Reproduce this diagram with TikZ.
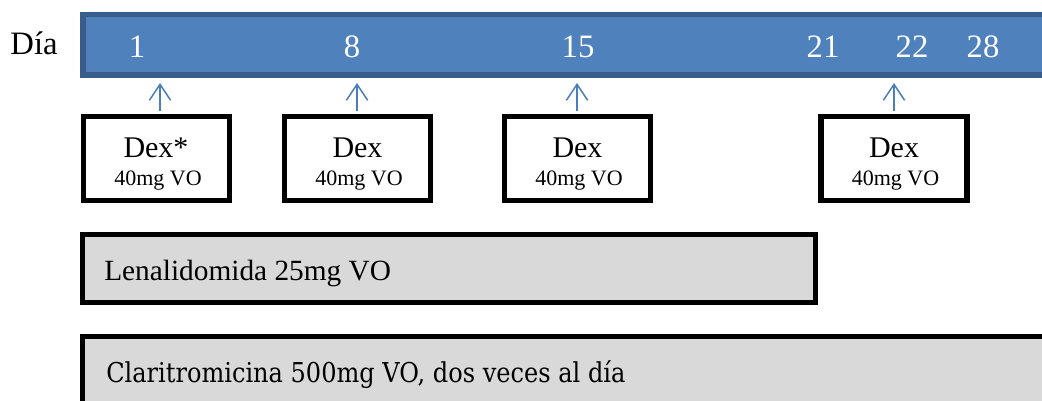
\documentclass[tikz,border=0pt]{standalone}
\usepackage{fontspec}
\setmainfont{Liberation Serif}
\newfontfamily\clarfont[FakeStretch=0.88]{DejaVu Serif}
\usetikzlibrary{arrows.meta}
\definecolor{barblue}{HTML}{4F81BD}
\definecolor{bardark}{HTML}{385D8A}
\definecolor{arrowblue}{HTML}{4A7EBB}
\definecolor{boxgray}{HTML}{D9D9D9}

\begin{document}
\begin{tikzpicture}[x=0.75pt, y=-0.75pt, >={Straight Barb[length=12pt,width=16pt]},
		dexbox/.style={draw, line width=4pt, fill=white, minimum width=109.5pt, minimum height=63pt, inner sep=0pt},
		dayno/.style={anchor=base, text=white, font=\fontsize{24.5}{29}\selectfont},
		dexname/.style={anchor=base, font=\fontsize{22.5}{27}\selectfont},
		dexdose/.style={anchor=base, font=\fontsize{16.5}{19}\selectfont},
		drugbar/.style={draw, line width=4pt, fill=boxgray},
		upline/.style={->, arrowblue, line width=1.1pt}]
		\useasboundingbox (0,0) rectangle (1042,400);
		\clip (0,0) rectangle (1042,400);
		% cycle days
		\draw[bardark, fill=barblue, line width=4pt] (83,14.5) rectangle (1060,75);
		\node[anchor=base, font=\fontsize{24.5}{29}\selectfont] (dia) at (34,54) {Día};
		\foreach \d/\x in {1/137,8/352,15/578,21/823,22/912,28/983}
			\node[dayno] (n\d) at (\x,57) {\d};
		% dexamethasone doses
		\foreach \i/\x/\t in {1/156.5/160,2/357.5/357,3/577.5/577,4/894/894} {
			\node[dexbox] (d\i) at (\x,158.5) {};
			\coordinate (t\i) at (\t,83);
			\draw[upline, shorten <=2pt] (t\i |- d\i.north) -- (t\i);
			\node[dexdose] (dd\i) at (\x+1.5,185) {40mg VO};
		}
		\node[dexname] (dn1) at (156,157) {Dex*};
		\node[dexname] (dn2) at (357.5,157) {Dex};
		\node[dexname] (dn3) at (577.5,157) {Dex};
		\node[dexname] (dn4) at (894,157) {Dex};
		% continuous drugs
		\draw[drugbar] (82.5,234.5) rectangle (815.5,302.5);
		\node[anchor=base west, inner sep=0pt, font=\fontsize{22}{26}\selectfont] (lena) at (104,280) {Lenalidomida 25mg VO};
		\draw[drugbar] (82.5,336.5) rectangle (1060,420);
		\node[anchor=base west, inner sep=0pt, font=\clarfont\fontsize{20.5}{24}\selectfont] (clar) at (106,382) {Claritromicina 500mg VO, dos veces al día};
	\end{tikzpicture}
\end{document}
